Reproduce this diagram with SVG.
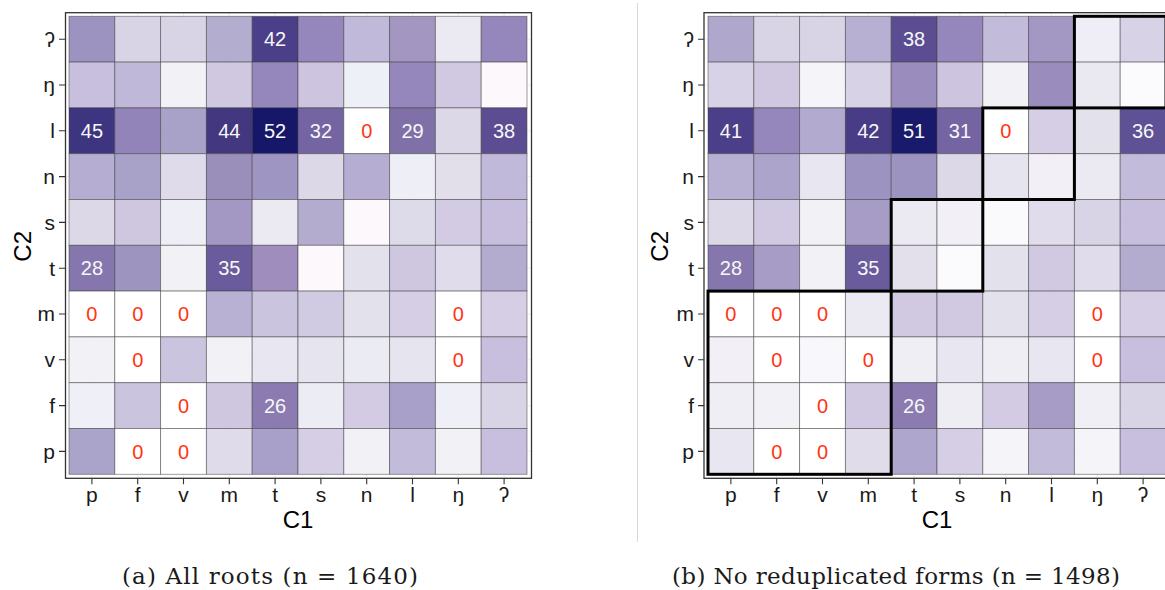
<svg xmlns="http://www.w3.org/2000/svg" width="1165" height="590" viewBox="0 0 1165 590">
<style>
.bg{fill:#ffffff}
.grid line{stroke:#ebebeb;stroke-width:0.8}
.cells rect{stroke:#3c3c3c;stroke-opacity:0.55;stroke-width:0.9}
.frame{fill:none;stroke:#333333;stroke-width:1.3}
.ticks{fill:none;stroke:#333333;stroke-width:1.1}
.num{font-family:"Liberation Sans",Arial,sans-serif;font-size:20px;text-anchor:middle;fill:#f7f7f7}
.zero{font-family:"Liberation Sans",Arial,sans-serif;font-size:20px;text-anchor:middle;fill:#ff3514}
.yl{font-family:"Liberation Sans",Arial,sans-serif;font-size:21px;text-anchor:end;fill:#1a1a1a}
.xl{font-family:"Liberation Sans",Arial,sans-serif;font-size:21px;text-anchor:middle;fill:#1a1a1a}
.title{font-family:"Liberation Sans",Arial,sans-serif;font-size:24px;text-anchor:middle;fill:#000}
.cap{font-family:"DejaVu Serif","Liberation Serif",serif;font-size:23px;fill:#1a1a1a}
.blk{fill:none;stroke:#000;stroke-width:3}
</style>
<rect width="1165" height="590" fill="#ffffff"/>
<line x1="637.5" y1="3" x2="637.5" y2="542" stroke="#d9d9d9" stroke-width="1"/>

<!-- Panel A -->
<g id="panel-a" transform="translate(69,16.3)">
  <rect class="bg" x="-3.5" y="-3.6" width="466" height="465.6"/>
  <g class="grid">
    <line x1="22.9" y1="-3.6" x2="22.9" y2="462"/><line x1="68.7" y1="-3.6" x2="68.7" y2="462"/><line x1="114.5" y1="-3.6" x2="114.5" y2="462"/><line x1="160.3" y1="-3.6" x2="160.3" y2="462"/><line x1="206.1" y1="-3.6" x2="206.1" y2="462"/><line x1="251.9" y1="-3.6" x2="251.9" y2="462"/><line x1="297.7" y1="-3.6" x2="297.7" y2="462"/><line x1="343.5" y1="-3.6" x2="343.5" y2="462"/><line x1="389.3" y1="-3.6" x2="389.3" y2="462"/><line x1="435.1" y1="-3.6" x2="435.1" y2="462"/>
    <line y1="22.9" x1="-3.5" y2="22.9" x2="462.5"/><line y1="68.7" x1="-3.5" y2="68.7" x2="462.5"/><line y1="114.5" x1="-3.5" y2="114.5" x2="462.5"/><line y1="160.3" x1="-3.5" y2="160.3" x2="462.5"/><line y1="206.1" x1="-3.5" y2="206.1" x2="462.5"/><line y1="251.9" x1="-3.5" y2="251.9" x2="462.5"/><line y1="297.7" x1="-3.5" y2="297.7" x2="462.5"/><line y1="343.5" x1="-3.5" y2="343.5" x2="462.5"/><line y1="389.3" x1="-3.5" y2="389.3" x2="462.5"/><line y1="435.1" x1="-3.5" y2="435.1" x2="462.5"/>
  </g>
  <g class="cells">
    <rect x="0" y="0" width="45.8" height="45.8" fill="#9d93c0"/><rect x="45.8" y="0" width="45.8" height="45.8" fill="#d8d4e6"/><rect x="91.6" y="0" width="45.8" height="45.8" fill="#d8d4e6"/><rect x="137.4" y="0" width="45.8" height="45.8" fill="#b3aecf"/><rect x="183.2" y="0" width="45.8" height="45.8" fill="#4a3f88"/><rect x="229" y="0" width="45.8" height="45.8" fill="#9587bb"/><rect x="274.8" y="0" width="45.8" height="45.8" fill="#c0b9d9"/><rect x="320.6" y="0" width="45.8" height="45.8" fill="#a397c2"/><rect x="366.4" y="0" width="45.8" height="45.8" fill="#ebeaf3"/><rect x="412.2" y="0" width="45.8" height="45.8" fill="#9587bb"/>
    <rect x="0" y="45.8" width="45.8" height="45.8" fill="#c8bfdf"/><rect x="45.8" y="45.8" width="45.8" height="45.8" fill="#bfb8d8"/><rect x="91.6" y="45.8" width="45.8" height="45.8" fill="#f2f1f6"/><rect x="137.4" y="45.8" width="45.8" height="45.8" fill="#cfc8e0"/><rect x="183.2" y="45.8" width="45.8" height="45.8" fill="#9587bb"/><rect x="229" y="45.8" width="45.8" height="45.8" fill="#cdc5df"/><rect x="274.8" y="45.8" width="45.8" height="45.8" fill="#eef0f7"/><rect x="320.6" y="45.8" width="45.8" height="45.8" fill="#9587bb"/><rect x="366.4" y="45.8" width="45.8" height="45.8" fill="#d0c9e1"/><rect x="412.2" y="45.8" width="45.8" height="45.8" fill="#fcf8fb"/>
    <rect x="0" y="91.6" width="45.8" height="45.8" fill="#3d3580"/><rect x="45.8" y="91.6" width="45.8" height="45.8" fill="#9283b9"/><rect x="91.6" y="91.6" width="45.8" height="45.8" fill="#a8a2c8"/><rect x="137.4" y="91.6" width="45.8" height="45.8" fill="#43377f"/><rect x="183.2" y="91.6" width="45.8" height="45.8" fill="#161768"/><rect x="229" y="91.6" width="45.8" height="45.8" fill="#7465a2"/><rect x="274.8" y="91.6" width="45.8" height="45.8" fill="#ffffff"/><rect x="320.6" y="91.6" width="45.8" height="45.8" fill="#8070a8"/><rect x="366.4" y="91.6" width="45.8" height="45.8" fill="#dcd8e7"/><rect x="412.2" y="91.6" width="45.8" height="45.8" fill="#5c4d92"/>
    <rect x="0" y="137.4" width="45.8" height="45.8" fill="#b5aed2"/><rect x="45.8" y="137.4" width="45.8" height="45.8" fill="#a9a2c8"/><rect x="91.6" y="137.4" width="45.8" height="45.8" fill="#e0dbea"/><rect x="137.4" y="137.4" width="45.8" height="45.8" fill="#9a8fba"/><rect x="183.2" y="137.4" width="45.8" height="45.8" fill="#9e95c2"/><rect x="229" y="137.4" width="45.8" height="45.8" fill="#dcd8e8"/><rect x="274.8" y="137.4" width="45.8" height="45.8" fill="#b6aed2"/><rect x="320.6" y="137.4" width="45.8" height="45.8" fill="#eeeff6"/><rect x="366.4" y="137.4" width="45.8" height="45.8" fill="#e2dfeb"/><rect x="412.2" y="137.4" width="45.8" height="45.8" fill="#c0b9d9"/>
    <rect x="0" y="183.2" width="45.8" height="45.8" fill="#dcd8e7"/><rect x="45.8" y="183.2" width="45.8" height="45.8" fill="#cfc7e0"/><rect x="91.6" y="183.2" width="45.8" height="45.8" fill="#eeeef6"/><rect x="137.4" y="183.2" width="45.8" height="45.8" fill="#a397c4"/><rect x="183.2" y="183.2" width="45.8" height="45.8" fill="#ebe9f2"/><rect x="229" y="183.2" width="45.8" height="45.8" fill="#b3accf"/><rect x="274.8" y="183.2" width="45.8" height="45.8" fill="#fcf8fb"/><rect x="320.6" y="183.2" width="45.8" height="45.8" fill="#dddbea"/><rect x="366.4" y="183.2" width="45.8" height="45.8" fill="#d3cbe3"/><rect x="412.2" y="183.2" width="45.8" height="45.8" fill="#c6bedc"/>
    <rect x="0" y="229" width="45.8" height="45.8" fill="#8576ad"/><rect x="45.8" y="229" width="45.8" height="45.8" fill="#9d95c0"/><rect x="91.6" y="229" width="45.8" height="45.8" fill="#f2f1f6"/><rect x="137.4" y="229" width="45.8" height="45.8" fill="#6a5b9c"/><rect x="183.2" y="229" width="45.8" height="45.8" fill="#9f8dbd"/><rect x="229" y="229" width="45.8" height="45.8" fill="#fcf8fb"/><rect x="274.8" y="229" width="45.8" height="45.8" fill="#e3e1ec"/><rect x="320.6" y="229" width="45.8" height="45.8" fill="#cfc7e0"/><rect x="366.4" y="229" width="45.8" height="45.8" fill="#e0dceb"/><rect x="412.2" y="229" width="45.8" height="45.8" fill="#b3accf"/>
    <rect x="0" y="274.8" width="45.8" height="45.8" fill="#ffffff"/><rect x="45.8" y="274.8" width="45.8" height="45.8" fill="#ffffff"/><rect x="91.6" y="274.8" width="45.8" height="45.8" fill="#ffffff"/><rect x="137.4" y="274.8" width="45.8" height="45.8" fill="#b8b1d3"/><rect x="183.2" y="274.8" width="45.8" height="45.8" fill="#cbc4de"/><rect x="229" y="274.8" width="45.8" height="45.8" fill="#d0cae2"/><rect x="274.8" y="274.8" width="45.8" height="45.8" fill="#e3e1ec"/><rect x="320.6" y="274.8" width="45.8" height="45.8" fill="#d5cee4"/><rect x="366.4" y="274.8" width="45.8" height="45.8" fill="#ffffff"/><rect x="412.2" y="274.8" width="45.8" height="45.8" fill="#d5cee4"/>
    <rect x="0" y="320.6" width="45.8" height="45.8" fill="#f2f1f6"/><rect x="45.8" y="320.6" width="45.8" height="45.8" fill="#ffffff"/><rect x="91.6" y="320.6" width="45.8" height="45.8" fill="#cbc4de"/><rect x="137.4" y="320.6" width="45.8" height="45.8" fill="#f2f1f6"/><rect x="183.2" y="320.6" width="45.8" height="45.8" fill="#e8e6f0"/><rect x="229" y="320.6" width="45.8" height="45.8" fill="#e6e4ef"/><rect x="274.8" y="320.6" width="45.8" height="45.8" fill="#eaebf3"/><rect x="320.6" y="320.6" width="45.8" height="45.8" fill="#e6e4ef"/><rect x="366.4" y="320.6" width="45.8" height="45.8" fill="#ffffff"/><rect x="412.2" y="320.6" width="45.8" height="45.8" fill="#c8bfdf"/>
    <rect x="0" y="366.4" width="45.8" height="45.8" fill="#eeeff7"/><rect x="45.8" y="366.4" width="45.8" height="45.8" fill="#cbc4de"/><rect x="91.6" y="366.4" width="45.8" height="45.8" fill="#ffffff"/><rect x="137.4" y="366.4" width="45.8" height="45.8" fill="#cfc7e0"/><rect x="183.2" y="366.4" width="45.8" height="45.8" fill="#8b7bb0"/><rect x="229" y="366.4" width="45.8" height="45.8" fill="#ebecf4"/><rect x="274.8" y="366.4" width="45.8" height="45.8" fill="#d3cbe3"/><rect x="320.6" y="366.4" width="45.8" height="45.8" fill="#a8a0c8"/><rect x="366.4" y="366.4" width="45.8" height="45.8" fill="#eeeff7"/><rect x="412.2" y="366.4" width="45.8" height="45.8" fill="#d8d4e6"/>
    <rect x="0" y="412.2" width="45.8" height="45.8" fill="#aaa4cb"/><rect x="45.8" y="412.2" width="45.8" height="45.8" fill="#ffffff"/><rect x="91.6" y="412.2" width="45.8" height="45.8" fill="#ffffff"/><rect x="137.4" y="412.2" width="45.8" height="45.8" fill="#e0dbea"/><rect x="183.2" y="412.2" width="45.8" height="45.8" fill="#a8a0c8"/><rect x="229" y="412.2" width="45.8" height="45.8" fill="#d5cee4"/><rect x="274.8" y="412.2" width="45.8" height="45.8" fill="#f2f2f6"/><rect x="320.6" y="412.2" width="45.8" height="45.8" fill="#c2bbda"/><rect x="366.4" y="412.2" width="45.8" height="45.8" fill="#f2f2f6"/><rect x="412.2" y="412.2" width="45.8" height="45.8" fill="#c8bfdf"/>
  </g>
  <g class="labels">
    <text class="num" x="206.1" y="30.1">42</text>
    <text class="num" x="22.9" y="121.7">45</text><text class="num" x="160.3" y="121.7">44</text><text class="num" x="206.1" y="121.7">52</text><text class="num" x="251.9" y="121.7">32</text><text class="zero" x="297.7" y="121.7">0</text><text class="num" x="343.5" y="121.7">29</text><text class="num" x="435.1" y="121.7">38</text>
    <text class="num" x="22.9" y="259.1">28</text><text class="num" x="160.3" y="259.1">35</text>
    <text class="zero" x="22.9" y="304.9">0</text><text class="zero" x="68.7" y="304.9">0</text><text class="zero" x="114.5" y="304.9">0</text><text class="zero" x="389.3" y="304.9">0</text>
    <text class="zero" x="68.7" y="350.7">0</text><text class="zero" x="389.3" y="350.7">0</text>
    <text class="zero" x="114.5" y="396.5">0</text><text class="num" x="206.1" y="396.5">26</text>
    <text class="zero" x="68.7" y="442.3">0</text><text class="zero" x="114.5" y="442.3">0</text>
  </g>
  <rect class="frame" x="-3.5" y="-3.6" width="466" height="465.6"/>
  <path class="ticks" d="M-10 22.9H-4M-10 68.7H-4M-10 114.5H-4M-10 160.3H-4M-10 206.1H-4M-10 251.9H-4M-10 297.7H-4M-10 343.5H-4M-10 389.3H-4M-10 435.1H-4M22.9 462V468M68.7 462V468M114.5 462V468M160.3 462V468M206.1 462V468M251.9 462V468M297.7 462V468M343.5 462V468M389.3 462V468M435.1 462V468"/>
  <g class="yaxis">
    <text class="yl" x="-14" y="30.4">ʔ</text><text class="yl" x="-14" y="76.2">ŋ</text><text class="yl" x="-14" y="122">l</text><text class="yl" x="-14" y="167.8">n</text><text class="yl" x="-14" y="213.6">s</text><text class="yl" x="-14" y="259.4">t</text><text class="yl" x="-14" y="305.2">m</text><text class="yl" x="-14" y="351">v</text><text class="yl" x="-14" y="396.8">f</text><text class="yl" x="-14" y="442.6">p</text>
  </g>
  <g class="xaxis">
    <text class="xl" x="22.9" y="485.7">p</text><text class="xl" x="68.7" y="485.7">f</text><text class="xl" x="114.5" y="485.7">v</text><text class="xl" x="160.3" y="485.7">m</text><text class="xl" x="206.1" y="485.7">t</text><text class="xl" x="251.9" y="485.7">s</text><text class="xl" x="297.7" y="485.7">n</text><text class="xl" x="343.5" y="485.7">l</text><text class="xl" x="389.3" y="485.7">ŋ</text><text class="xl" x="435.1" y="485.7">ʔ</text>
  </g>
  <text class="title" x="229" y="512">C1</text>
  <text class="title" transform="translate(-38,230) rotate(-90)">C2</text>
</g>

<!-- Panel B -->
<g id="panel-b" transform="translate(708,16.3)">
  <rect class="bg" x="-4" y="-3.6" width="466" height="465.6"/>
  <g class="grid">
    <line x1="22.9" y1="-3.6" x2="22.9" y2="462"/><line x1="68.7" y1="-3.6" x2="68.7" y2="462"/><line x1="114.5" y1="-3.6" x2="114.5" y2="462"/><line x1="160.3" y1="-3.6" x2="160.3" y2="462"/><line x1="206.1" y1="-3.6" x2="206.1" y2="462"/><line x1="251.9" y1="-3.6" x2="251.9" y2="462"/><line x1="297.7" y1="-3.6" x2="297.7" y2="462"/><line x1="343.5" y1="-3.6" x2="343.5" y2="462"/><line x1="389.3" y1="-3.6" x2="389.3" y2="462"/><line x1="435.1" y1="-3.6" x2="435.1" y2="462"/>
    <line y1="22.9" x1="-4" y2="22.9" x2="462"/><line y1="68.7" x1="-4" y2="68.7" x2="462"/><line y1="114.5" x1="-4" y2="114.5" x2="462"/><line y1="160.3" x1="-4" y2="160.3" x2="462"/><line y1="206.1" x1="-4" y2="206.1" x2="462"/><line y1="251.9" x1="-4" y2="251.9" x2="462"/><line y1="297.7" x1="-4" y2="297.7" x2="462"/><line y1="343.5" x1="-4" y2="343.5" x2="462"/><line y1="389.3" x1="-4" y2="389.3" x2="462"/><line y1="435.1" x1="-4" y2="435.1" x2="462"/>
  </g>
  <g class="cells">
    <rect x="0" y="0" width="45.8" height="45.8" fill="#b0a7cd"/><rect x="45.8" y="0" width="45.8" height="45.8" fill="#d8d4e6"/><rect x="91.6" y="0" width="45.8" height="45.8" fill="#d8d4e6"/><rect x="137.4" y="0" width="45.8" height="45.8" fill="#b8b0d2"/><rect x="183.2" y="0" width="45.8" height="45.8" fill="#5c4d92"/><rect x="229" y="0" width="45.8" height="45.8" fill="#9587bb"/><rect x="274.8" y="0" width="45.8" height="45.8" fill="#c2bbda"/><rect x="320.6" y="0" width="45.8" height="45.8" fill="#a397c4"/><rect x="366.4" y="0" width="45.8" height="45.8" fill="#efedf5"/><rect x="412.2" y="0" width="45.8" height="45.8" fill="#d8d2e6"/>
    <rect x="0" y="45.8" width="45.8" height="45.8" fill="#d8d2e6"/><rect x="45.8" y="45.8" width="45.8" height="45.8" fill="#cfc8e0"/><rect x="91.6" y="45.8" width="45.8" height="45.8" fill="#f5f4f8"/><rect x="137.4" y="45.8" width="45.8" height="45.8" fill="#d8d2e6"/><rect x="183.2" y="45.8" width="45.8" height="45.8" fill="#9a8dbe"/><rect x="229" y="45.8" width="45.8" height="45.8" fill="#cdc5df"/><rect x="274.8" y="45.8" width="45.8" height="45.8" fill="#f2f1f6"/><rect x="320.6" y="45.8" width="45.8" height="45.8" fill="#9a8dbe"/><rect x="366.4" y="45.8" width="45.8" height="45.8" fill="#eae8f1"/><rect x="412.2" y="45.8" width="45.8" height="45.8" fill="#fbfbfd"/>
    <rect x="0" y="91.6" width="45.8" height="45.8" fill="#4a3f88"/><rect x="45.8" y="91.6" width="45.8" height="45.8" fill="#9587bb"/><rect x="91.6" y="91.6" width="45.8" height="45.8" fill="#b3aacf"/><rect x="137.4" y="91.6" width="45.8" height="45.8" fill="#483c87"/><rect x="183.2" y="91.6" width="45.8" height="45.8" fill="#1a1a6c"/><rect x="229" y="91.6" width="45.8" height="45.8" fill="#7465a2"/><rect x="274.8" y="91.6" width="45.8" height="45.8" fill="#ffffff"/><rect x="320.6" y="91.6" width="45.8" height="45.8" fill="#d5cee4"/><rect x="366.4" y="91.6" width="45.8" height="45.8" fill="#e3e1ec"/><rect x="412.2" y="91.6" width="45.8" height="45.8" fill="#5f5196"/>
    <rect x="0" y="137.4" width="45.8" height="45.8" fill="#b8b0d2"/><rect x="45.8" y="137.4" width="45.8" height="45.8" fill="#aca4cb"/><rect x="91.6" y="137.4" width="45.8" height="45.8" fill="#e8e6f0"/><rect x="137.4" y="137.4" width="45.8" height="45.8" fill="#9c93c0"/><rect x="183.2" y="137.4" width="45.8" height="45.8" fill="#9c93c0"/><rect x="229" y="137.4" width="45.8" height="45.8" fill="#dcd8e8"/><rect x="274.8" y="137.4" width="45.8" height="45.8" fill="#e6e4ef"/><rect x="320.6" y="137.4" width="45.8" height="45.8" fill="#f2f0f6"/><rect x="366.4" y="137.4" width="45.8" height="45.8" fill="#ebe9f2"/><rect x="412.2" y="137.4" width="45.8" height="45.8" fill="#c2bbda"/>
    <rect x="0" y="183.2" width="45.8" height="45.8" fill="#dcd8e8"/><rect x="45.8" y="183.2" width="45.8" height="45.8" fill="#d0c9e1"/><rect x="91.6" y="183.2" width="45.8" height="45.8" fill="#f2f1f6"/><rect x="137.4" y="183.2" width="45.8" height="45.8" fill="#a69cc6"/><rect x="183.2" y="183.2" width="45.8" height="45.8" fill="#ebe9f2"/><rect x="229" y="183.2" width="45.8" height="45.8" fill="#f2f0f6"/><rect x="274.8" y="183.2" width="45.8" height="45.8" fill="#fafafc"/><rect x="320.6" y="183.2" width="45.8" height="45.8" fill="#e0dceb"/><rect x="366.4" y="183.2" width="45.8" height="45.8" fill="#d8d4e6"/><rect x="412.2" y="183.2" width="45.8" height="45.8" fill="#c6bedc"/>
    <rect x="0" y="229" width="45.8" height="45.8" fill="#8576ad"/><rect x="45.8" y="229" width="45.8" height="45.8" fill="#a69cc6"/><rect x="91.6" y="229" width="45.8" height="45.8" fill="#f2f1f6"/><rect x="137.4" y="229" width="45.8" height="45.8" fill="#6a5b9c"/><rect x="183.2" y="229" width="45.8" height="45.8" fill="#e3e0ec"/><rect x="229" y="229" width="45.8" height="45.8" fill="#fbfbfd"/><rect x="274.8" y="229" width="45.8" height="45.8" fill="#e3e1ec"/><rect x="320.6" y="229" width="45.8" height="45.8" fill="#d0c9e1"/><rect x="366.4" y="229" width="45.8" height="45.8" fill="#e0dceb"/><rect x="412.2" y="229" width="45.8" height="45.8" fill="#b3accf"/>
    <rect x="0" y="274.8" width="45.8" height="45.8" fill="#ffffff"/><rect x="45.8" y="274.8" width="45.8" height="45.8" fill="#ffffff"/><rect x="91.6" y="274.8" width="45.8" height="45.8" fill="#ffffff"/><rect x="137.4" y="274.8" width="45.8" height="45.8" fill="#ebe9f2"/><rect x="183.2" y="274.8" width="45.8" height="45.8" fill="#d0c9e1"/><rect x="229" y="274.8" width="45.8" height="45.8" fill="#d0c9e1"/><rect x="274.8" y="274.8" width="45.8" height="45.8" fill="#e3e1ec"/><rect x="320.6" y="274.8" width="45.8" height="45.8" fill="#d5cee4"/><rect x="366.4" y="274.8" width="45.8" height="45.8" fill="#ffffff"/><rect x="412.2" y="274.8" width="45.8" height="45.8" fill="#d5cee4"/>
    <rect x="0" y="320.6" width="45.8" height="45.8" fill="#f2f0f6"/><rect x="45.8" y="320.6" width="45.8" height="45.8" fill="#ffffff"/><rect x="91.6" y="320.6" width="45.8" height="45.8" fill="#f8f7fb"/><rect x="137.4" y="320.6" width="45.8" height="45.8" fill="#ffffff"/><rect x="183.2" y="320.6" width="45.8" height="45.8" fill="#f0eef5"/><rect x="229" y="320.6" width="45.8" height="45.8" fill="#e8e6f0"/><rect x="274.8" y="320.6" width="45.8" height="45.8" fill="#f0eef5"/><rect x="320.6" y="320.6" width="45.8" height="45.8" fill="#e8e6f0"/><rect x="366.4" y="320.6" width="45.8" height="45.8" fill="#ffffff"/><rect x="412.2" y="320.6" width="45.8" height="45.8" fill="#c8bfdf"/>
    <rect x="0" y="366.4" width="45.8" height="45.8" fill="#f0eef5"/><rect x="45.8" y="366.4" width="45.8" height="45.8" fill="#f2f1f6"/><rect x="91.6" y="366.4" width="45.8" height="45.8" fill="#ffffff"/><rect x="137.4" y="366.4" width="45.8" height="45.8" fill="#d0c9e1"/><rect x="183.2" y="366.4" width="45.8" height="45.8" fill="#8b7bb0"/><rect x="229" y="366.4" width="45.8" height="45.8" fill="#eeedf4"/><rect x="274.8" y="366.4" width="45.8" height="45.8" fill="#d3cbe3"/><rect x="320.6" y="366.4" width="45.8" height="45.8" fill="#a69cc6"/><rect x="366.4" y="366.4" width="45.8" height="45.8" fill="#f0eff5"/><rect x="412.2" y="366.4" width="45.8" height="45.8" fill="#d8d4e6"/>
    <rect x="0" y="412.2" width="45.8" height="45.8" fill="#e8e6f0"/><rect x="45.8" y="412.2" width="45.8" height="45.8" fill="#ffffff"/><rect x="91.6" y="412.2" width="45.8" height="45.8" fill="#ffffff"/><rect x="137.4" y="412.2" width="45.8" height="45.8" fill="#e0dcea"/><rect x="183.2" y="412.2" width="45.8" height="45.8" fill="#aea6cc"/><rect x="229" y="412.2" width="45.8" height="45.8" fill="#d5cee4"/><rect x="274.8" y="412.2" width="45.8" height="45.8" fill="#f5f4f8"/><rect x="320.6" y="412.2" width="45.8" height="45.8" fill="#c2bbda"/><rect x="366.4" y="412.2" width="45.8" height="45.8" fill="#f5f4f8"/><rect x="412.2" y="412.2" width="45.8" height="45.8" fill="#c8bfdf"/>
  </g>
  <g class="labels">
    <text class="num" x="206.1" y="30.1">38</text>
    <text class="num" x="22.9" y="121.7">41</text><text class="num" x="160.3" y="121.7">42</text><text class="num" x="206.1" y="121.7">51</text><text class="num" x="251.9" y="121.7">31</text><text class="zero" x="297.7" y="121.7">0</text><text class="num" x="435.1" y="121.7">36</text>
    <text class="num" x="22.9" y="259.1">28</text><text class="num" x="160.3" y="259.1">35</text>
    <text class="zero" x="22.9" y="304.9">0</text><text class="zero" x="68.7" y="304.9">0</text><text class="zero" x="114.5" y="304.9">0</text><text class="zero" x="389.3" y="304.9">0</text>
    <text class="zero" x="68.7" y="350.7">0</text><text class="zero" x="160.3" y="350.7">0</text><text class="zero" x="389.3" y="350.7">0</text>
    <text class="zero" x="114.5" y="396.5">0</text><text class="num" x="206.1" y="396.5">26</text>
    <text class="zero" x="68.7" y="442.3">0</text><text class="zero" x="114.5" y="442.3">0</text>
  </g>
  <g id="blocks">
    <rect class="blk" x="0" y="274.8" width="183.2" height="183.2"/>
    <rect class="blk" x="183.2" y="183.2" width="91.6" height="91.6"/>
    <rect class="blk" x="274.8" y="91.6" width="91.6" height="91.6"/>
    <rect class="blk" x="366.4" y="0" width="91.6" height="91.6"/>
  </g>
  <rect class="frame" x="-4" y="-3.6" width="466" height="465.6"/>
  <path class="ticks" d="M-10 22.9H-4M-10 68.7H-4M-10 114.5H-4M-10 160.3H-4M-10 206.1H-4M-10 251.9H-4M-10 297.7H-4M-10 343.5H-4M-10 389.3H-4M-10 435.1H-4M22.9 462V468M68.7 462V468M114.5 462V468M160.3 462V468M206.1 462V468M251.9 462V468M297.7 462V468M343.5 462V468M389.3 462V468M435.1 462V468"/>
  <g class="yaxis">
    <text class="yl" x="-14" y="30.4">ʔ</text><text class="yl" x="-14" y="76.2">ŋ</text><text class="yl" x="-14" y="122">l</text><text class="yl" x="-14" y="167.8">n</text><text class="yl" x="-14" y="213.6">s</text><text class="yl" x="-14" y="259.4">t</text><text class="yl" x="-14" y="305.2">m</text><text class="yl" x="-14" y="351">v</text><text class="yl" x="-14" y="396.8">f</text><text class="yl" x="-14" y="442.6">p</text>
  </g>
  <g class="xaxis">
    <text class="xl" x="22.9" y="485.7">p</text><text class="xl" x="68.7" y="485.7">f</text><text class="xl" x="114.5" y="485.7">v</text><text class="xl" x="160.3" y="485.7">m</text><text class="xl" x="206.1" y="485.7">t</text><text class="xl" x="251.9" y="485.7">s</text><text class="xl" x="297.7" y="485.7">n</text><text class="xl" x="343.5" y="485.7">l</text><text class="xl" x="389.3" y="485.7">ŋ</text><text class="xl" x="435.1" y="485.7">ʔ</text>
  </g>
  <text class="title" x="229" y="512">C1</text>
  <text class="title" transform="translate(-40,230) rotate(-90)">C2</text>
</g>

<g id="captions">
  <text class="cap" x="122" y="584" textLength="296" lengthAdjust="spacing">(a) All roots (n = 1640)</text>
  <text class="cap" x="672" y="584" textLength="448" lengthAdjust="spacing">(b) No reduplicated forms (n = 1498)</text>
</g>
</svg>
